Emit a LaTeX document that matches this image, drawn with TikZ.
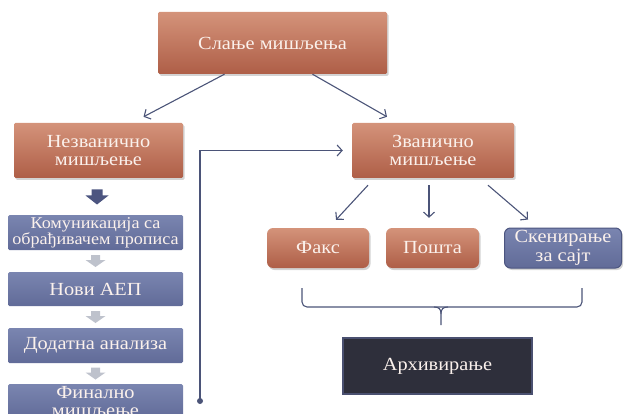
\documentclass[tikz,border=0pt]{standalone}
\usepackage{fontspec}
\setmainfont{Liberation Serif}[FakeStretch=1.1]
\usepackage{xcolor}
\usepackage{tikz}
\usetikzlibrary{calc,arrows.meta,shadows}
\definecolor{rusttop}{HTML}{D4937A}
\definecolor{rustbot}{HTML}{AE5E47}
\definecolor{slatetop}{HTML}{7A85B0}
\definecolor{slatebot}{HTML}{616B98}
\definecolor{slateedge}{HTML}{4C5580}
\definecolor{night}{HTML}{2E2F3B}
\definecolor{nightedge}{HTML}{4A5070}
\definecolor{wire}{HTML}{4B5478}
\definecolor{pale}{HTML}{BEC2CC}
\definecolor{cream}{HTML}{FBF1EC}
\tikzset{
  obox/.style={top color=rusttop, bottom color=rustbot, draw=none, rounded corners=1.5pt,
    drop shadow={opacity=0.35, shadow xshift=1.5pt, shadow yshift=-2pt},
    text=cream, align=center, inner sep=0pt, font=\fontsize{18.5}{18}\selectfont},
  rbox/.style={obox, rounded corners=6pt},
  bbox/.style={top color=slatetop, bottom color=slatebot, draw=none, rounded corners=1.5pt,
    text=cream, align=center, inner sep=0pt, font=\fontsize{18.5}{18}\selectfont},
  conn/.style={draw=wire, line width=1.1pt, -{Straight Barb[length=5pt,width=11pt]}},
  % block arrows pointing down (y grows downward here)
  pics/bigarrow/.style={code={
    \fill[slateedge] (-5.5,-7) -- (5.5,-7) -- (5.5,-1) -- (11.5,-1) -- (0,8) -- (-11.5,-1) -- (-5.5,-1) -- cycle;}},
  pics/smallarrow/.style={code={
    \fill[pale] (-4.5,-6) -- (4.5,-6) -- (4.5,-1) -- (10,-1) -- (0,6) -- (-10,-1) -- (-4.5,-1) -- cycle;}}
}
\begin{document}
\begin{tikzpicture}[x=1pt,y=-1pt]
  \useasboundingbox (0,0) rectangle (626,414);

  % top level
  \node[obox, minimum width=229pt, minimum height=62pt] (send) at (272.5,43) {Слање мишљења};
  \node[obox, minimum width=169pt, minimum height=55pt] (nez) at (98.5,150.5) {Незванично\\мишљење};
  \node[obox, minimum width=162pt, minimum height=55pt] (zv) at (433,150.5) {Званично\\мишљење};

  % unofficial branch
  \node[bbox, minimum width=175pt, minimum height=35pt, font=\fontsize{16.5}{16}\selectfont] (kom) at (95.5,232.5) {Комуникација са\\обрађивачем прописа};
  \node[bbox, minimum width=175pt, minimum height=34pt] (novi) at (95.5,289) {Нови АЕП};
  \node[bbox, minimum width=175pt, minimum height=35pt] (dod) at (95.5,345.5) {Додатна анализа};
  \node[bbox, minimum width=175pt, minimum height=35pt] (fin) at (95.5,401.5) {Финално\\мишљење};

  \pic at ($(nez.south)!0.5!(kom.north)$) {bigarrow};
  \foreach \a/\b in {kom/novi, novi/dod, dod/fin}
    \pic at ($(\a.south)!0.5!(\b.north)$) {smallarrow};

  % official branch
  \node[rbox, minimum width=102pt, minimum height=40pt] (fax) at (318,248) {Факс};
  \node[rbox, minimum width=93pt, minimum height=40pt] (post) at (432.5,248) {Пошта};
  \node[bbox, rounded corners=6pt, draw=slateedge, line width=1pt, minimum width=117pt, minimum height=40pt,
    drop shadow={opacity=0.35, shadow xshift=1.5pt, shadow yshift=-2pt},
    font=\fontsize{18.5}{19}\selectfont] (scan) at (563,248) {Скенирање\\за сајт};
  \node[fill=night, draw=nightedge, line width=1.2pt, minimum width=189pt, minimum height=56pt,
    text=cream, font=\fontsize{18.5}{18}\selectfont] (arch) at (437.5,366) {Архивирање};

  % connectors
  \draw[conn] ([xshift=-48pt]send.south) -- ([xshift=45pt,yshift=6pt]nez.north);
  \draw[conn] ([xshift=40pt]send.south) -- ([xshift=-46pt,yshift=6pt]zv.north);
  \draw[conn] ([xshift=-65pt,yshift=-7pt]zv.south) -- ([xshift=18pt,yshift=8pt]fax.north);
  \draw[conn] ([xshift=-4pt,yshift=-7pt]zv.south) -- ([xshift=-3.5pt,yshift=10pt]post.north);
  \draw[conn] ([xshift=55pt,yshift=-7pt]zv.south) -- ([xshift=-35pt,yshift=8pt]scan.north);

  \coordinate (dot) at (200,401);
  \draw[conn] (dot) |- ([xshift=-9pt]zv.west);
  \fill[wire] (dot) circle (3pt);

  % bracket over the archive
  \coordinate (brL) at (302,288);
  \coordinate (brR) at (582,288);
  \coordinate (brB) at (441,325);
  \draw[wire, line width=1.1pt, rounded corners=5pt] (brL) -- (302,307) -- (582,307) -- (brR);
  \draw[wire, line width=1.1pt] (brB) -- (441,314) .. controls (441,309) and (439,307) .. (434,307);
  \draw[wire, line width=1.1pt] (441,314) .. controls (441,309) and (443,307) .. (448,307);
\end{tikzpicture}
\end{document}
